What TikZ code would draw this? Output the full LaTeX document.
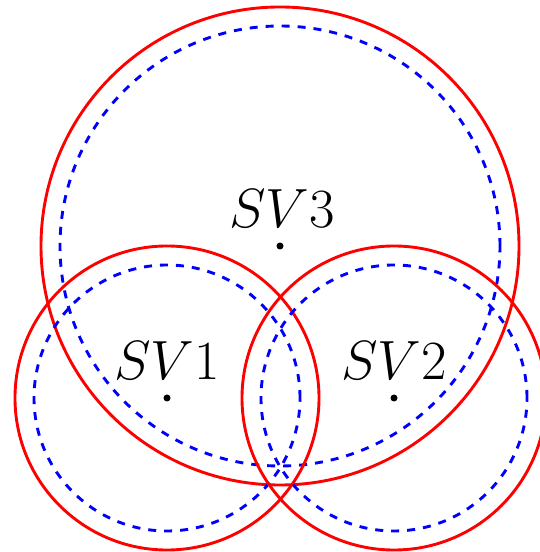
\documentclass[tikz,border=0pt]{standalone}
\usetikzlibrary{calc}

\begin{document}
\begin{tikzpicture}[x=0.45pt, y=0.45pt, every node/.style={font=\Huge},
  redring/.style={draw=red, line width=1.3pt},
  bluering/.style={draw=blue, line width=1.3pt, dash pattern=on 3.6pt off 3.6pt},
  svdot/.style={fill=black}]
  \useasboundingbox (0,0) rectangle (540,552);
  \coordinate (sv1) at (167,154);
  \coordinate (sv2) at (394,154);
  \coordinate (sv3) at (280,306);
  \draw[redring] (sv3) circle (239);
  \draw[bluering] (sv3) circle (220);
  \draw[redring] (sv1) circle (152);
  \draw[bluering] (sv1) circle (133);
  \draw[redring] (sv2) circle (152);
  \draw[bluering] (sv2) circle (133);
  \fill[svdot] (sv1) circle (3.5);
  \fill[svdot] (sv2) circle (3.5);
  \fill[svdot] (sv3) circle (3.5);
  \node[anchor=base, inner sep=0pt] (lab1) at ($(sv1)+(0,18)$) {$SV1$};
  \node[anchor=base, inner sep=0pt] (lab2) at ($(sv2)+(0,18)$) {$SV2$};
  \node[anchor=base, inner sep=0pt] (lab3) at ($(sv3)+(2,18)$) {$SV3$};
\end{tikzpicture}
\end{document}
